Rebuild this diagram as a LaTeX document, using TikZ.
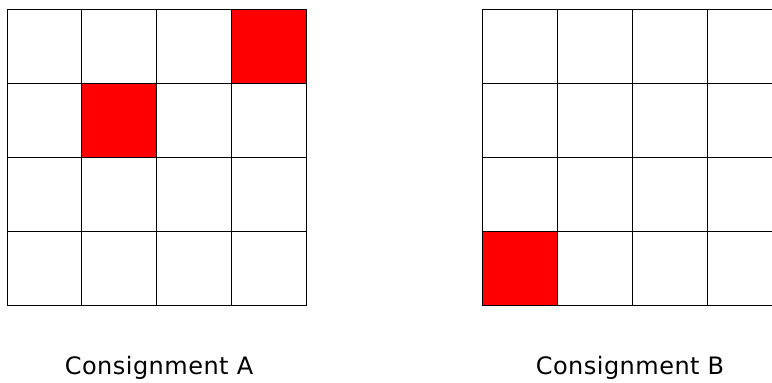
\documentclass[tikz,border=0pt]{standalone}
\usepackage{fontspec}
\setmainfont{DejaVu Sans}[LetterSpace=2]
\begin{document}
\begin{tikzpicture}[x=1pt,y=-1pt,
  gridline/.style={draw=black,line width=0.9pt},
  redcell/.style={fill=red,draw=black,line width=0.9pt},
  caption/.style={anchor=base,inner sep=0pt,font=\fontsize{24}{28}\selectfont}]
\useasboundingbox (0,0) rectangle (772,383);
\clip (0,0) rectangle (772,383);
% Grid A
\foreach \i in {0,...,4} {
  \draw[gridline] (7+74.9*\i,9.5) -- (7+74.9*\i,305.5);
  \draw[gridline] (7,9.5+74*\i) -- (306.6,9.5+74*\i);
}
\draw[redcell] (7+74.9*3,9.5) rectangle (7+74.9*4,9.5+74);
\draw[redcell] (7+74.9*1,9.5+74) rectangle (7+74.9*2,9.5+74*2);
% Grid B
\foreach \i in {0,...,4} {
  \draw[gridline] (482+75*\i,9.5) -- (482+75*\i,305.5);
  \draw[gridline] (482,9.5+74*\i) -- (782,9.5+74*\i);
}
\draw[redcell] (482,9.5+74*3) rectangle (557,9.5+74*4);
% Captions
\node[caption] (capA) at (159,374.5) {Consignment A};
\node[caption] (capB) at (630,374.5) {Consignment B};
\end{tikzpicture}
\end{document}
